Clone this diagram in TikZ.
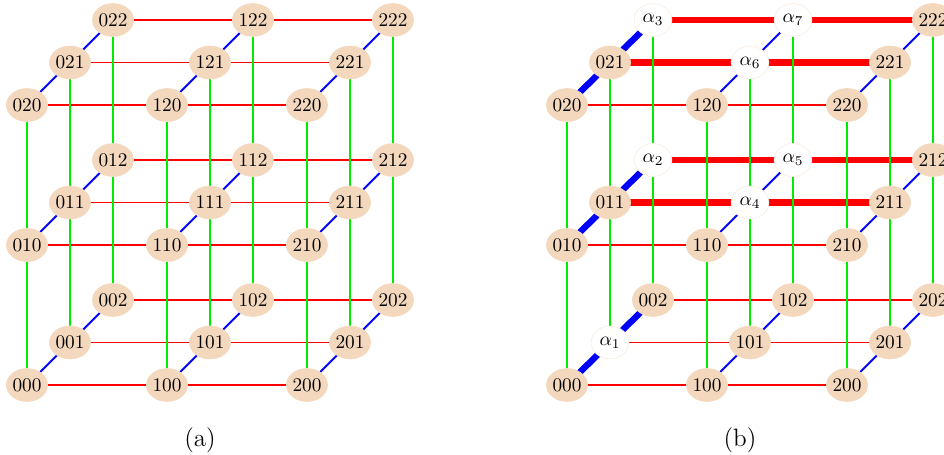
\documentclass[tikz,border=0pt]{standalone}
\usetikzlibrary{shapes.geometric,backgrounds}
\definecolor{peach}{RGB}{243,216,190}
\definecolor{pred}{RGB}{255,0,0}
\definecolor{pgreen}{RGB}{0,235,0}
\definecolor{pblue}{RGB}{0,0,255}
\expandafter\def\csname labR001\endcsname{$\alpha_1$}
\expandafter\def\csname labR012\endcsname{$\alpha_2$}
\expandafter\def\csname labR022\endcsname{$\alpha_3$}
\expandafter\def\csname labR111\endcsname{$\alpha_4$}
\expandafter\def\csname labR112\endcsname{$\alpha_5$}
\expandafter\def\csname labR121\endcsname{$\alpha_6$}
\expandafter\def\csname labR122\endcsname{$\alpha_7$}
\begin{document}
\begin{tikzpicture}[x=0.518pt,y=-0.518pt,
  vert/.style={ellipse,fill=peach,draw=peach,minimum width=19.6pt,minimum height=17pt,inner sep=0pt,font=\fontsize{10}{12}\selectfont},
  anode/.style={vert,fill=white,draw=peach!50,line width=0.3pt},
  xedge/.style={draw=pred,line width=1pt},
  yedge/.style={draw=pgreen,line width=1pt},
  zedge/.style={draw=pblue,line width=1pt},
  thickx/.style={xedge,line width=3.3pt,line cap=round},
  thickz/.style={zedge,line width=3.3pt,line cap=round},
  caplabel/.style={font=\fontsize{13}{15}\selectfont}]
\useasboundingbox (0,0) rectangle (944,455);
\foreach \i in {0,1,2}{\foreach \j in {0,1,2}{\foreach \k in {0,1,2}{
  \node[vert] (L\i\j\k) at ({27+140*\i+43*\k},{385-140*\j-42.5*\k}) {\i\j\k};
  \ifcsname labR\i\j\k\endcsname
    \node[anode] (R\i\j\k) at ({567+140*\i+43*\k},{385-140*\j-42.5*\k}) {\csname labR\i\j\k\endcsname};
  \else
    \node[vert] (R\i\j\k) at ({567+140*\i+43*\k},{385-140*\j-42.5*\k}) {\i\j\k};
  \fi
}}}
\node[caplabel] (capa) at (200,440) {(a)};
\node[caplabel] (capb) at (740,440) {(b)};
\begin{pgfonlayer}{background}
  % red edges (first digit)
  \foreach \P in {L,R}{\foreach \a in {0,1}{\pgfmathtruncatemacro\nb{\a+1}
    \foreach \u in {0,1,2}{\foreach \v in {0,1,2}{
      \draw[xedge] (\P\a\u\v) -- (\P\nb\u\v);
    }}}}
  \draw[thickx] (R022) -- (R122);
  \draw[thickx] (R122) -- (R222);
  \draw[thickx] (R021) -- (R121);
  \draw[thickx] (R121) -- (R221);
  \draw[thickx] (R012) -- (R112);
  \draw[thickx] (R112) -- (R212);
  \draw[thickx] (R011) -- (R111);
  \draw[thickx] (R111) -- (R211);
  % blue edges (third digit)
  \foreach \P in {L,R}{\foreach \a in {0,1}{\pgfmathtruncatemacro\nb{\a+1}
    \foreach \u in {0,1,2}{\foreach \v in {0,1,2}{
      \draw[zedge] (\P\u\v\a) -- (\P\u\v\nb);
    }}}}
  \draw[thickz] (R000) -- (R001);
  \draw[thickz] (R001) -- (R002);
  \draw[thickz] (R010) -- (R011);
  \draw[thickz] (R011) -- (R012);
  \draw[thickz] (R020) -- (R021);
  \draw[thickz] (R021) -- (R022);
  % green edges (second digit)
  \foreach \P in {L,R}{\foreach \a in {0,1}{\pgfmathtruncatemacro\nb{\a+1}
    \foreach \u in {0,1,2}{\foreach \v in {0,1,2}{
      \draw[yedge] (\P\u\a\v) -- (\P\u\nb\v);
    }}}}
\end{pgfonlayer}
\end{tikzpicture}
\end{document}
